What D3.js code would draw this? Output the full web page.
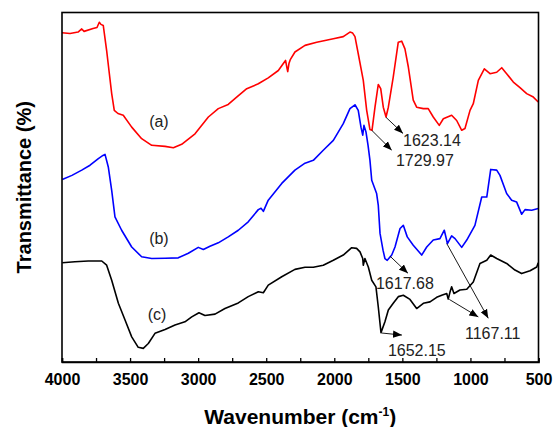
<!DOCTYPE html>
<html><head><meta charset="utf-8">
<script src="https://cdn.jsdelivr.net/npm/d3@7"></script>
<style>body{margin:0;background:#fff}svg{display:block}text{font-family:Arial,"Liberation Sans",sans-serif}</style>
</head><body><svg id="c" width="553" height="427"></svg>
<script>
// Data: [wavenumber (cm-1), transmittance (a.u.)]
const seriesA = [[4000,94.2],[3941,94.0],[3882,94.4],[3855,95.3],[3838,94.6],[3772,95.4],[3743,95.7],[3726,97.2],[3714,96.6],[3697,96.3],[3672,89.1],[3655,83.4],[3635,76.8],[3616,72.0],[3589,71.1],[3550,70.6],[3488,67.2],[3415,63.9],[3341,62.0],[3243,61.7],[3182,61.3],[3121,62.3],[3023,65.3],[2925,70.1],[2852,72.5],[2779,73.7],[2717,75.8],[2643,78.2],[2558,79.6],[2485,81.3],[2411,83.4],[2369,85.7],[2358,86.3],[2347,84.0],[2342,83.1],[2333,85.4],[2322,86.6],[2289,88.7],[2215,90.6],[2129,91.5],[2007,92.5],[1934,93.1],[1885,94.4],[1865,94.1],[1848,93.1],[1824,88.2],[1787,80.6],[1762,72.0],[1738,66.5],[1723,66.3],[1701,72.9],[1677,79.4],[1659,78.2],[1640,72.9],[1620,70.1],[1603,72.9],[1567,81.5],[1530,91.5],[1505,91.8],[1481,89.6],[1456,84.4],[1420,74.9],[1395,72.9],[1346,72.5],[1310,72.5],[1273,70.1],[1229,67.7],[1199,69.6],[1138,70.6],[1101,69.1],[1064,66.3],[1040,66.8],[1003,72.0],[979,73.9],[942,80.6],[898,83.9],[856,82.5],[807,82.9],[770,84.2],[734,82.5],[685,80.1],[636,78.5],[587,76.8],[538,75.8],[502,74.4]];
const seriesB = [[3998,52.2],[3927,53.4],[3855,54.9],[3794,56.3],[3733,58.2],[3699,59.1],[3684,59.4],[3660,55.8],[3635,49.1],[3611,41.5],[3562,37.7],[3488,32.9],[3415,30.1],[3341,29.6],[3243,29.7],[3146,29.8],[3072,31.1],[2999,32.8],[2962,32.2],[2913,33.1],[2852,34.1],[2779,35.8],[2705,37.7],[2632,40.1],[2558,43.6],[2538,44.0],[2521,43.1],[2485,46.3],[2386,51.1],[2289,54.9],[2215,56.9],[2154,57.7],[2081,60.6],[2007,63.4],[1934,68.2],[1885,72.5],[1848,73.6],[1824,72.0],[1804,67.2],[1791,64.9],[1782,67.7],[1767,65.8],[1752,62.0],[1738,57.7],[1725,52.0],[1689,48.2],[1677,44.9],[1664,36.8],[1642,32.0],[1628,29.6],[1611,29.1],[1578,30.6],[1554,32.9],[1517,38.2],[1493,39.1],[1464,35.8],[1420,33.4],[1358,30.6],[1321,32.9],[1273,34.9],[1224,35.3],[1192,37.7],[1169,33.9],[1138,36.1],[1113,35.3],[1064,32.8],[1027,34.9],[967,39.1],[917,47.2],[880,47.2],[851,55.1],[807,54.9],[783,53.4],[734,48.2],[697,46.3],[661,45.8],[624,42.3],[599,43.6],[550,43.4],[502,43.9]];
const seriesC = [[3998,28.4],[3905,28.7],[3807,28.9],[3708,28.9],[3672,27.7],[3635,23.4],[3586,16.8],[3537,12.0],[3488,7.2],[3440,4.2],[3403,3.9],[3366,5.3],[3317,8.2],[3243,9.3],[3170,10.6],[3097,11.5],[3047,12.9],[2994,14.1],[2950,13.3],[2876,13.7],[2803,15.3],[2705,16.9],[2632,18.7],[2558,20.1],[2521,19.8],[2485,22.0],[2386,24.4],[2289,26.5],[2215,27.1],[2154,27.1],[2081,27.7],[2007,29.1],[1934,30.6],[1872,32.7],[1836,32.5],[1811,31.5],[1791,29.6],[1787,27.7],[1775,29.6],[1750,27.2],[1725,23.4],[1694,21.5],[1677,15.8],[1657,8.4],[1628,11.5],[1603,14.9],[1567,16.8],[1530,18.7],[1493,19.1],[1444,17.9],[1395,15.3],[1346,16.8],[1297,17.2],[1248,18.5],[1211,19.1],[1174,19.6],[1163,18.0],[1150,20.0],[1138,21.5],[1121,19.6],[1077,20.6],[1027,20.8],[979,22.9],[930,28.2],[880,29.1],[851,30.6],[807,29.6],[734,28.2],[673,26.3],[624,25.3],[562,26.1],[513,27.2],[502,28.4]];
const seriesNames = ["(a)","(b)","(c)"];
const seriesColors = ["#ff0000","#0000ff","#000000"];
const xTicks = [4000,3500,3000,2500,2000,1500,1000,500];
const peakLabels = ["1729.97","1623.14","1617.68","1652.15","1167.11"];
// arrows: [from wn, from T, to wn, to T]
const arrows = [[1725,66.3,1578,60.6],[1620,70.0,1495,65.4],[1591,30.3,1459,25.4],[1653,8.3,1503,7.7],[1174,33.9,869,12.5],[1155,17.9,942,12.9]];
const peakLabelPos = [[1547,56.0],[1495,61.7],[1694,20.9],[1606,1.7],[1040,6.6]];
const seriesLabelPos = [[3288,67.1],[3288,33.7],[3302,12.0]];

const svg = d3.select("#c");
const L=62, R=538.5, T=12.5, B=362;
const x = d3.scaleLinear().domain([4000,500]).range([L,R]);
const y = d3.scaleLinear().domain([0,100]).range([B,T]);

svg.append("defs").append("marker").attr("id","ah").attr("viewBox","0 0 10 10")
  .attr("refX",10).attr("refY",5).attr("markerWidth",9).attr("markerHeight",9)
  .attr("markerUnits","userSpaceOnUse").attr("orient","auto")
  .append("path").attr("d","M0,1 L10,5 L0,9 Z").attr("fill","#000");

const line = d3.line().x(d=>x(d[0])).y(d=>y(d[1]));
[seriesA,seriesB,seriesC].forEach((s,i)=>{
  svg.append("path").datum(s).attr("d",line).attr("fill","none")
    .attr("stroke",seriesColors[i]).attr("stroke-width",1.6).attr("stroke-linejoin","round");
});

// frame
svg.append("rect").attr("x",L).attr("y",T).attr("width",R-L).attr("height",B-T)
  .attr("fill","none").attr("stroke","#000").attr("stroke-width",1.6);

const ax = svg.append("g").attr("transform",`translate(0,${B})`)
  .call(d3.axisBottom(x).tickValues(d3.range(4000,499,-250)).tickSize(-4).tickFormat(d=>xTicks.includes(d)?d:""));
ax.select(".domain").attr("stroke","#000").attr("stroke-width",1.6);
ax.selectAll(".tick line").attr("stroke","#000").attr("stroke-width",1.3);
ax.selectAll(".tick text").attr("y",23).attr("dy",0).attr("fill","#000")
  .style("font-size","16px").style("font-weight","bold").style("font-family","Arial, 'Liberation Sans', sans-serif");

// axis titles
const xt = svg.append("text").attr("x",(L+R)/2).attr("y",424).attr("text-anchor","middle")
  .style("font-size","21px").style("font-weight","bold");
xt.append("tspan").text("Wavenumber (cm");
xt.append("tspan").attr("dy",-8).style("font-size","12px").text("-1");
xt.append("tspan").attr("dy",8).text(")");
svg.append("text").attr("transform",`translate(31,${(T+B)/2}) rotate(-90)`).attr("text-anchor","middle")
  .style("font-size","20px").style("font-weight","bold").text("Transmittance (%)");

// series labels
seriesNames.forEach((n,i)=>{
  svg.append("text").attr("x",x(seriesLabelPos[i][0])).attr("y",y(seriesLabelPos[i][1]))
    .attr("text-anchor","middle").style("font-size","16px").attr("fill","#222").text(n);
});
// arrows
arrows.forEach(a=>{
  svg.append("line").attr("x1",x(a[0])).attr("y1",y(a[1])).attr("x2",x(a[2])).attr("y2",y(a[3]))
    .attr("stroke","#000").attr("stroke-width",0.9).attr("marker-end","url(#ah)");
});
peakLabels.forEach((t,i)=>{
  svg.append("text").attr("x",x(peakLabelPos[i][0])).attr("y",y(peakLabelPos[i][1]))
    .style("font-size","16px").attr("fill","#222").text(t);
});
</script></body></html>
